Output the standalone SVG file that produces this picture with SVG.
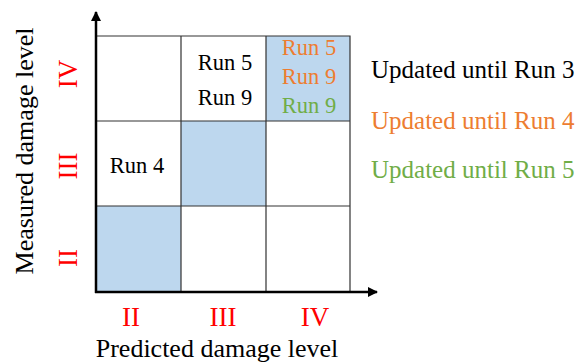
<svg xmlns="http://www.w3.org/2000/svg" width="580" height="363" viewBox="0 0 580 363">
<style>
text{font-family:'Liberation Serif','Times New Roman',serif}
.cell{font-size:22.5px;text-anchor:middle}
.leg{font-size:25px}
.ax{font-size:26px;text-anchor:middle;fill:#000}
.num{font-size:27px;text-anchor:middle;fill:#FF0000}
.grid{stroke:#333;stroke-width:1.2;fill:none}
.blue{fill:#BDD7EE}
.axis{stroke:#000;stroke-width:2.5;fill:none}
.or{fill:#ED7D31}.gr{fill:#70AD47}
</style>
<defs>
<marker id="ah" viewBox="0 0 10 10" refX="9" refY="5" markerWidth="4" markerHeight="4" orient="auto" markerUnits="strokeWidth">
<path d="M0,0 L10,5 L0,10 z" fill="#000"/>
</marker>
</defs>
<g id="cells">
<rect class="blue" x="96" y="206" width="85" height="86"/>
<rect class="blue" x="181" y="121" width="85" height="85"/>
<rect class="blue" x="266" y="36" width="84" height="85"/>
</g>
<g id="grid">
<path class="grid" d="M96,36 H350 V292 M96,121 H350 M96,206 H350 M181,36 V292 M266,36 V292"/>
</g>
<g id="connectors">
<line class="axis" x1="96" y1="293" x2="96" y2="12" marker-end="url(#ah)"/>
<line class="axis" x1="95" y1="292" x2="377" y2="292" marker-end="url(#ah)"/>
</g>
<g id="cell-text">
<text class="cell" x="225" y="70">Run 5</text>
<text class="cell" x="225" y="105">Run 9</text>
<text class="cell or" x="309" y="55">Run 5</text>
<text class="cell or" x="309" y="84">Run 9</text>
<text class="cell gr" x="309" y="113">Run 9</text>
<text class="cell" x="137" y="173">Run 4</text>
</g>
<g id="legend">
<text class="leg" x="371" y="78">Updated until Run 3</text>
<text class="leg or" x="371" y="129">Updated until Run 4</text>
<text class="leg gr" x="371" y="178">Updated until Run 5</text>
</g>
<g id="labels">
<text class="num" x="131" y="326">II</text>
<text class="num" x="223" y="326">III</text>
<text class="num" x="315" y="326">IV</text>
<text class="num" transform="translate(77,74) rotate(-90)">IV</text>
<text class="num" transform="translate(77,166) rotate(-90)">III</text>
<text class="num" transform="translate(77,258) rotate(-90)">II</text>
<text class="ax" x="217" y="357">Predicted damage level</text>
<text class="ax" transform="translate(33,151) rotate(-90)">Measured damage level</text>
</g>
</svg>
